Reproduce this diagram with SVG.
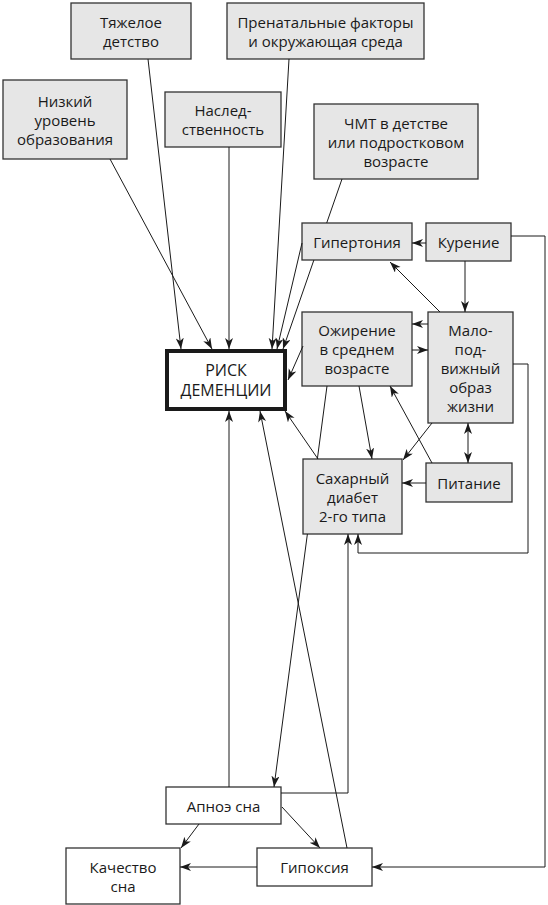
<svg xmlns="http://www.w3.org/2000/svg" width="548" height="905" viewBox="0 0 548 905">
<style>
.box{fill:#e6e6e6;stroke:#333;stroke-width:1.3}
.wbox{fill:#fff;stroke:#333;stroke-width:1.3}
.risk{fill:#fff;stroke:#1a1a1a;stroke-width:4}
text{font-family:"Open Sans","Noto Sans",sans-serif;font-size:15px;fill:#1a1a1a;text-anchor:middle}
.big{font-size:16px}
.c{fill:none;stroke:#1a1a1a;stroke-width:1;marker-end:url(#ah)}
</style>
<defs>
<marker id="ah" markerUnits="userSpaceOnUse" markerWidth="12" markerHeight="9" refX="11" refY="4" orient="auto-start-reverse">
<path d="M0,0 L11,4 L0,8 L3,4 z" fill="#1a1a1a"/>
</marker>
</defs>
<rect width="548" height="905" fill="#fff"/>
<g id="n1"><rect class="box" x="71" y="3" width="120" height="56"/><text x="131" y="27.5">Тяжелое</text><text x="131" y="46.5">детство</text></g>
<g id="n2"><rect class="box" x="227" y="3" width="197" height="56"/><text x="325.5" y="27.5">Пренатальные факторы</text><text x="325.5" y="46.5">и окружающая среда</text></g>
<g id="n3"><rect class="box" x="3" y="80" width="124" height="79"/><text x="65" y="106.5">Низкий</text><text x="65" y="125.5">уровень</text><text x="65" y="144.5">образования</text></g>
<g id="n4"><rect class="box" x="165" y="92" width="116" height="55"/><text x="223" y="116">Наслед-</text><text x="223" y="135">ственность</text></g>
<g id="n5"><rect class="box" x="314" y="104" width="164" height="75"/><text x="396" y="129">ЧМТ в детстве</text><text x="396" y="148">или подростковом</text><text x="396" y="167">возрасте</text></g>
<g id="n6"><rect class="box" x="302" y="223" width="110" height="37"/><text x="357" y="247.5">Гипертония</text></g>
<g id="n7"><rect class="box" x="426" y="223" width="85" height="38"/><text x="468.5" y="248">Курение</text></g>
<g id="n8"><rect class="box" x="302" y="312" width="110" height="74"/><text x="357" y="336">Ожирение</text><text x="357" y="355">в среднем</text><text x="357" y="374">возрасте</text></g>
<g id="n9"><rect class="box" x="428" y="312" width="85" height="111"/><text x="470.5" y="335.5">Мало-</text><text x="470.5" y="354.5">под-</text><text x="470.5" y="373.5">вижный</text><text x="470.5" y="392.5">образ</text><text x="470.5" y="411.5">жизни</text></g>
<g id="n10"><rect class="risk" x="167" y="351" width="118" height="58"/><text class="big" x="226" y="376">РИСК</text><text class="big" x="226" y="396">ДЕМЕНЦИИ</text></g>
<g id="n11"><rect class="box" x="303" y="459" width="99" height="75"/><text x="352.5" y="483.5">Сахарный</text><text x="352.5" y="502.5">диабет</text><text x="352.5" y="521.5">2-го типа</text></g>
<g id="n12"><rect class="box" x="426" y="463" width="86" height="39"/><text x="469" y="488.5">Питание</text></g>
<g id="n13"><rect class="wbox" x="166" y="787" width="115" height="37"/><text x="223.5" y="811.5">Апноэ сна</text></g>
<g id="n14"><rect class="wbox" x="66" y="848" width="114" height="56"/><text x="123" y="872.5">Качество</text><text x="123" y="891.5">сна</text></g>
<g id="n15"><rect class="wbox" x="257" y="848" width="115" height="38"/><text x="314.5" y="873">Гипоксия</text></g>
<g id="connectors">
<path class="c" d="M148,59 L181,349"/>
<path class="c" d="M110,159 L212,349"/>
<path class="c" d="M229,147 L229,349"/>
<path class="c" d="M289,59 L272,349"/>
<path class="c" d="M342,179 L326.7,223 M313.9,260 L283,349"/>
<path class="c" d="M302,243 L277,349"/>
<path class="c" d="M426,243 L412,243"/>
<path class="c" d="M465,261 L465,312"/>
<path class="c" d="M511,236 L545,236 L545,867 L372,867"/>
<path class="c" d="M440,312 L390,262"/>
<path class="c" d="M428,324 L412,324"/>
<path class="c" d="M412,350 L428,350"/>
<path class="c" d="M513,364 L528,364 L528,553 L358,553 L358,534"/>
<path class="c" d="M432,423 L403,460"/>
<path class="c" d="M468,423 L468,463" style="marker-start:url(#ah)"/>
<path class="c" d="M426,483 L402,483"/>
<path class="c" d="M432,463 L390,386"/>
<path class="c" d="M303,346 L288,380"/>
<path class="c" d="M359,386 L372,459"/>
<path class="c" d="M327,386 L317.35,459 M307.4,534 L274,787"/>
<path class="c" d="M318,459 L285,411"/>
<path class="c" d="M229,787 L229,411"/>
<path class="c" d="M347,848 L260,411"/>
<path class="c" d="M281,793 L348,793 L348,534"/>
<path class="c" d="M199,824 L181,848"/>
<path class="c" d="M282,807 L320,848"/>
<path class="c" d="M257,867 L180,867"/>
</g>
</svg>
